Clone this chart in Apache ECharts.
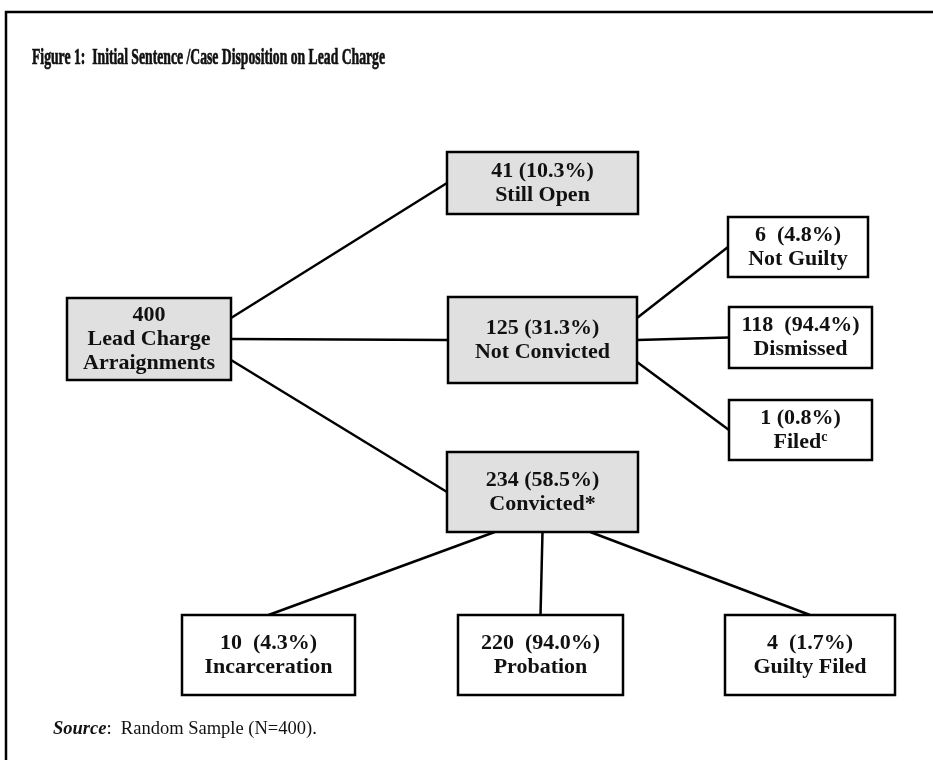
<!DOCTYPE html>
<html>
<head>
<meta charset="utf-8">
<script src="https://cdn.jsdelivr.net/npm/echarts@6/dist/echarts.min.js"></script>
<style>
  html, body { margin: 0; padding: 0; background: #fff; }
  #main { width: 933px; height: 760px; }
</style>
</head>
<body>
<div id="main"></div>
<script>
// data
var titleText = 'Figure 1:  Initial Sentence /Case Disposition on Lead Charge';
var nodeIds = ['root', 'open', 'notConv', 'conv', 'notGuilty', 'dismissed', 'filed', 'incarc', 'prob', 'guiltyFiled'];
var counts = [400, 41, 125, 234, 6, 118, 1, 10, 220, 4];
var pcts = ['', '10.3%', '31.3%', '58.5%', '4.8%', '94.4%', '0.8%', '4.3%', '94.0%', '1.7%'];
var names = ['Lead Charge\nArraignments', 'Still Open', 'Not Convicted', 'Convicted*', 'Not Guilty',
             'Dismissed', 'Filed{sup|c}', 'Incarceration', 'Probation', 'Guilty Filed'];
var parents = [-1, 0, 0, 0, 2, 2, 2, 3, 3, 3];
var sourceNote = 'Random Sample (N=400).';

// layout (pixel boxes x0, y0, x1, y1) and style
var boxes = [
  [67, 298, 231, 380],
  [447, 152, 638, 214],
  [448, 297, 637, 383],
  [447, 452, 638, 532],
  [728, 217, 868, 277],
  [729, 307, 872, 368],
  [729, 400, 872, 460],
  [182, 615, 355, 695],
  [458, 615, 623, 695],
  [725, 615, 895, 695]
];
var gaps = ['', ' ', ' ', ' ', '  ', '  ', ' ', '  ', '  ', '  '];
var shaded = [true, true, true, true, false, false, false, false, false, false];
var branchDir = { 0: 'right', 2: 'right', 3: 'down' };

var FONT = '"Liberation Serif", "Times New Roman", serif';

function labelOf(i) {
  var first = pcts[i] ? counts[i] + gaps[i] + '(' + pcts[i] + ')' : String(counts[i]);
  return first + '\n' + names[i];
}

// connectors from parent edge to child edge
var linkData = [];
var siblingIdx = {};
for (var i = 0; i < nodeIds.length; i++) {
  var p = parents[i];
  if (p < 0) continue;
  siblingIdx[p] = (siblingIdx[p] || 0) + 1;
  var k = siblingIdx[p] - 2;
  var pb = boxes[p], cb = boxes[i];
  var from, to;
  if (branchDir[p] === 'right') {
    from = [pb[2], (pb[1] + pb[3]) / 2 + k * 0.256 * (pb[3] - pb[1])];
    to = [cb[0], (cb[1] + cb[3]) / 2];
  } else {
    from = [(pb[0] + pb[2]) / 2 + k * 0.25 * (pb[2] - pb[0]), pb[3]];
    to = [(cb[0] + cb[2]) / 2, cb[1]];
  }
  linkData.push({ coords: [from, to] });
}

var boxData = boxes.map(function (b, i) { return [b[0], b[1], b[2], b[3], i]; });

function measure(text, font) {
  var ctx = document.createElement('canvas').getContext('2d');
  ctx.font = font;
  return ctx.measureText(text).width;
}
var titleFont = 'bold 23px ' + FONT;
var titleScale = 353 / measure(titleText, titleFont);

var chart = echarts.init(document.getElementById('main'));
chart.setOption({
  backgroundColor: '#fff',
  animation: false,
  grid: { left: 0, right: 0, top: 0, bottom: 0 },
  xAxis: { type: 'value', min: 0, max: 933, show: false },
  yAxis: { type: 'value', min: 0, max: 760, inverse: true, show: false },
  graphic: [
    { type: 'polyline', shape: { points: [[6, 760], [6, 12], [933, 12]] },
      style: { stroke: '#000', lineWidth: 2.5, fill: null } },
    { type: 'text', x: 32, y: 58, scaleX: titleScale, originX: 0,
      style: { text: titleText, font: titleFont, fill: '#111', stroke: '#111', lineWidth: 0.7,
               verticalAlign: 'middle' } },
    { type: 'text', x: 53, y: 729,
      style: { text: '{b|Source}:  ' + sourceNote, fontFamily: FONT, fontSize: 18.5, fill: '#111',
               verticalAlign: 'middle',
               rich: { b: { fontFamily: FONT, fontSize: 18.5, fontWeight: 'bold', fontStyle: 'italic' } } } }
  ],
  series: [
    {
      type: 'lines',
      coordinateSystem: 'cartesian2d',
      data: linkData,
      lineStyle: { color: '#000', width: 2.5, opacity: 1 },
      z: 1
    },
    {
      type: 'custom',
      coordinateSystem: 'cartesian2d',
      data: boxData,
      encode: { x: [0, 2], y: [1, 3] },
      z: 2,
      renderItem: function (params, api) {
        var i = api.value(4);
        var p0 = api.coord([api.value(0), api.value(1)]);
        var p1 = api.coord([api.value(2), api.value(3)]);
        return {
          type: 'rect',
          shape: { x: p0[0], y: p0[1], width: p1[0] - p0[0], height: p1[1] - p0[1] },
          style: { fill: shaded[i] ? '#e0e0e0' : '#fff', stroke: '#000', lineWidth: 2.5 },
          textContent: {
            style: {
              text: labelOf(i),
              fontFamily: FONT, fontWeight: 'bold', fontSize: 22, lineHeight: 24,
              fill: '#111', align: 'center', verticalAlign: 'middle',
              rich: { sup: { fontFamily: FONT, fontWeight: 'bold', fontSize: 14, verticalAlign: 'top', lineHeight: 24 } }
            }
          },
          textConfig: { position: 'inside' }
        };
      }
    }
  ]
});
</script>
</body>
</html>
